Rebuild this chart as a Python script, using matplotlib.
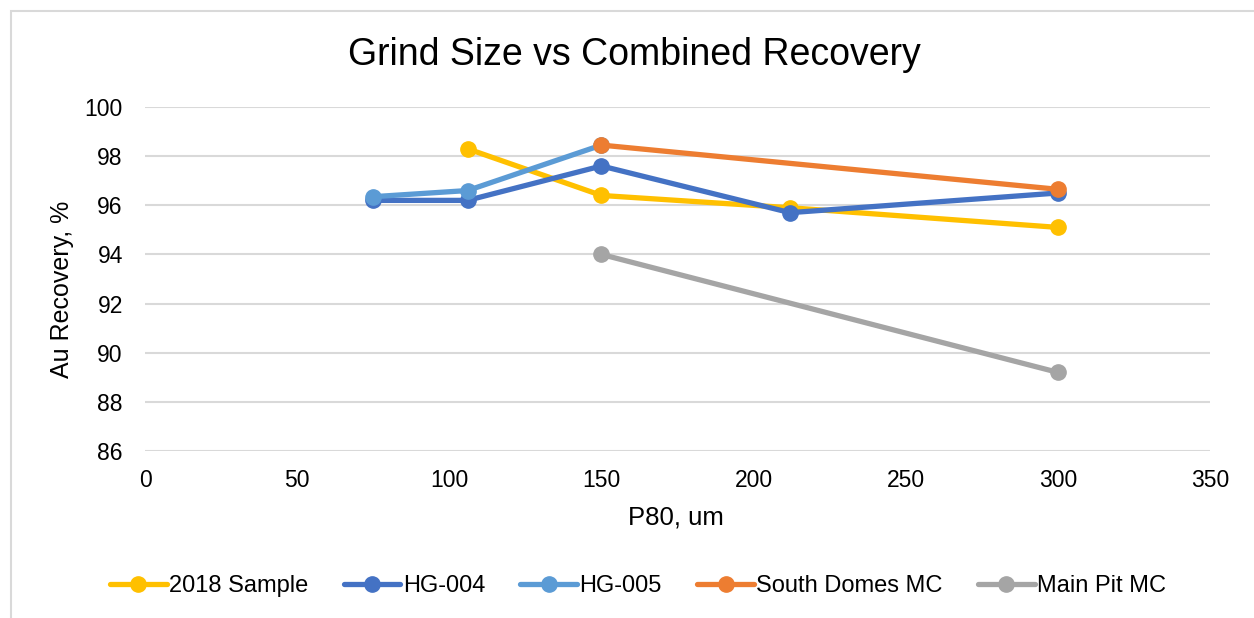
"""Grind size vs combined Au recovery for the test samples."""

import matplotlib.pyplot as plt
from matplotlib.patches import Rectangle

plt.rcParams['font.family'] = ['Liberation Sans', 'DejaVu Sans']

# P80 grind size (um) and Au recovery (%) per sample
sample_2018_p80 = [106, 150, 212, 300]
sample_2018_rec = [98.3, 96.4, 95.9, 95.1]

hg004_p80 = [75, 106, 150, 212, 300]
hg004_rec = [96.2, 96.2, 97.6, 95.7, 96.5]

hg005_p80 = [75, 106, 150]
hg005_rec = [96.35, 96.6, 98.45]

south_domes_p80 = [150, 300]
south_domes_rec = [98.45, 96.65]

main_pit_p80 = [150, 300]
main_pit_rec = [94.0, 89.2]

x_ticks = [0, 50, 100, 150, 200, 250, 300, 350]
y_ticks = [86, 88, 90, 92, 94, 96, 98, 100]


def main():
    W, H = 1254, 618
    fig = plt.figure(figsize=(W / 100, H / 100), dpi=100)
    ax = fig.add_axes([145 / W, 1 - 451 / H, (1210 - 145) / W, (451 - 107) / H])

    series = [
        ("2018 Sample", sample_2018_p80, sample_2018_rec, "#FFC000"),
        ("HG-004", hg004_p80, hg004_rec, "#4472C4"),
        ("HG-005", hg005_p80, hg005_rec, "#5B9BD5"),
        ("South Domes MC", south_domes_p80, south_domes_rec, "#ED7D31"),
        ("Main Pit MC", main_pit_p80, main_pit_rec, "#A5A5A5"),
    ]
    for name, x, y, color in series:
        ax.plot(x, y, color=color, lw=3.8, marker='o', ms=11,
                solid_capstyle='round', label=name, clip_on=False)

    ax.set_xlim(0, 350)
    ax.set_ylim(86, 100)
    ax.set_xticks(x_ticks)
    ax.set_yticks(y_ticks)
    ax.tick_params(length=0, labelsize=16.5, colors='#000000')
    ax.tick_params(axis='x', pad=13)
    ax.tick_params(axis='y', pad=16)
    ax.grid(axis='y', color='#D9D9D9', lw=1.5)
    ax.set_axisbelow(True)
    for s in ax.spines.values():
        s.set_visible(False)

    fig.text(634 / W, 1 - 55 / H, "Grind Size vs Combined Recovery",
             ha='center', va='center', fontsize=27)
    fig.text(676 / W, 1 - 518 / H, "P80, um", ha='center', va='center', fontsize=18.5)
    fig.text(62 / W, 1 - 289 / H, "Au Recovery, %", ha='center', va='center',
             fontsize=18, rotation=90)

    fig.legend(loc='center', bbox_to_anchor=(638 / W, 1 - 586 / H), ncol=5,
               frameon=False, fontsize=17, handlelength=2.4, handletextpad=0.1,
               columnspacing=1.5)

    # chart area border
    fig.patches.append(Rectangle((11 / W, -0.1), 1.2, 1 - 11 / H + 0.1,
                                 transform=fig.transFigure, fill=False,
                                 edgecolor='#D9D9D9', lw=1.5))

    fig.savefig("out.png", dpi=100)


if __name__ == "__main__":
    main()
